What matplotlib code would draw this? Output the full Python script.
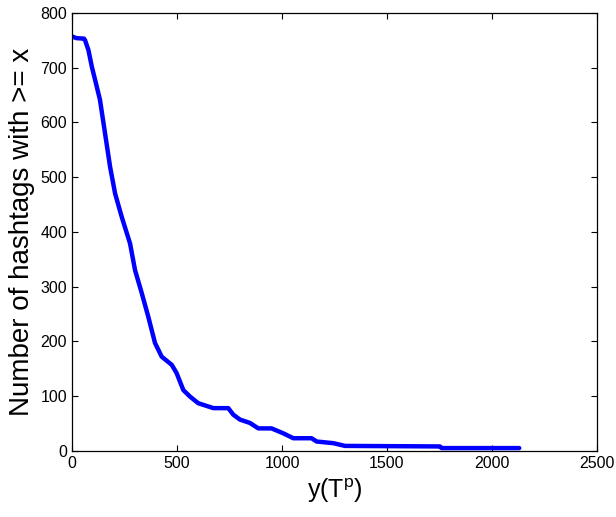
import numpy as np
import matplotlib.pyplot as plt

plt.rcParams['font.family'] = ['Liberation Sans', 'DejaVu Sans']

# values (x = y(T^p), y = count of hashtags >= x)
x_vals = [0, 20, 57, 62, 78, 94, 114, 133, 157, 181, 205, 236, 276, 300, 332,
          363, 395, 427, 475, 498, 530, 562, 601, 673, 744, 768,
          800, 847, 887, 950, 1006, 1054, 1141, 1165, 1244, 1300, 1752, 1760, 2130]
y_vals = [757, 754, 753, 750, 732, 702, 671, 641, 580, 519, 470, 428, 379, 330, 288,
          245, 197, 172, 157, 142, 111, 99, 87, 78, 78, 66,
          57, 51, 41, 41, 32, 23, 23, 17, 14, 9, 8, 5, 5]

fig = plt.figure(figsize=(6.16, 5.17), dpi=100)
ax = fig.add_axes([0.117, 0.128, 0.852, 0.847])

ax.plot(x_vals, y_vals, color='#0000ff', linewidth=3.2, solid_capstyle='round')

ax.set_xlim(0, 2500)
ax.set_ylim(0, 800)
ax.set_xticks(np.arange(0, 2501, 500))
ax.set_yticks(np.arange(0, 801, 100))
ax.tick_params(direction='in', top=True, right=True, labelsize=11.5, length=4, width=0.8)
for s in ax.spines.values():
    s.set_linewidth(0.9)

ax.set_xlabel('y(T$^{\\mathregular{p}}$)', fontsize=18, labelpad=4)
ax.set_ylabel('Number of hashtags with >= x', fontsize=20, labelpad=4)

fig.savefig('out.png', dpi=100)
